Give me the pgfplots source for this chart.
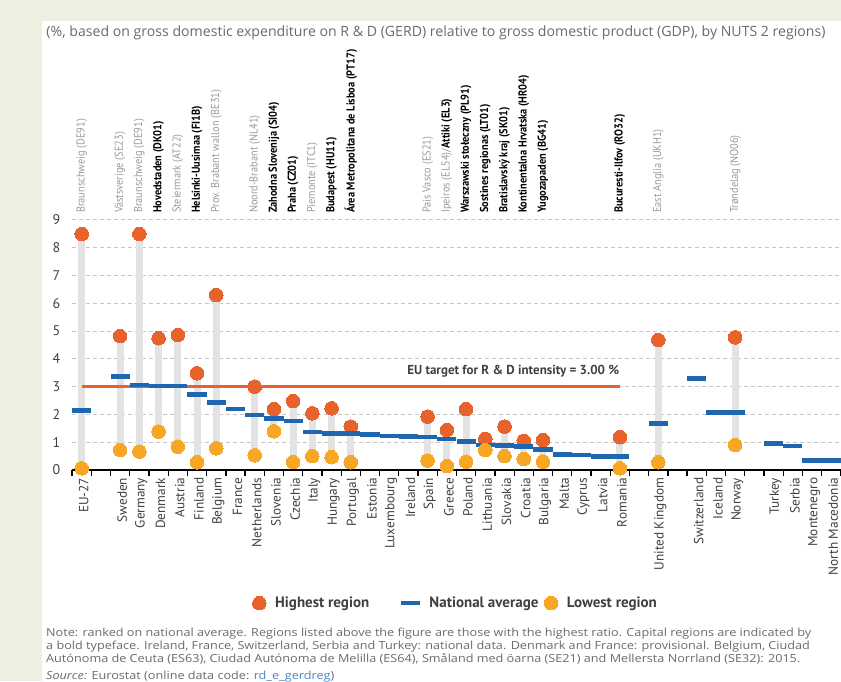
\documentclass[border=0pt]{standalone}
\usepackage{fontspec}
\setmainfont{PT Sans}
\newfontfamily\condfont[FakeStretch=0.9]{PT Sans}
\newfontfamily\notefont[FakeStretch=1.14]{Open Sans}
\newfontfamily\subfont{Open Sans}
\usepackage{pgfplots}
\usepackage{pgfplotstable}
\pgfplotsset{compat=1.18}
\definecolor{hiOrange}{HTML}{E8632B}
\definecolor{loOrange}{HTML}{F8A724}
\definecolor{natBlue}{HTML}{1F66B1}
\definecolor{barGray}{HTML}{E3E3E3}
\definecolor{bgGreen}{HTML}{EDF0E1}
\definecolor{lightG}{HTML}{9A9A9A}
\definecolor{txtG}{HTML}{404040}
\definecolor{subG}{HTML}{6A6A6A}
\definecolor{linkBlue}{HTML}{4A86C5}

\pgfplotstableread{
x high low
0 8.49 0.06
2 4.82 0.72
3 8.49 0.66
4 4.74 1.38
5 4.86 0.84
6 3.48 0.28
7 6.29 0.78
9 3.00 0.53
10 2.19 1.39
11 2.48 0.29
12 2.04 0.50
13 2.22 0.46
14 1.56 0.28
18 1.92 0.34
19 1.44 0.14
20 2.19 0.30
21 1.12 0.72
22 1.56 0.50
23 1.05 0.40
24 1.08 0.30
28 1.18 0.06
30 4.68 0.28
34 4.77 0.90
}\extremes

\pgfplotstableread{
x nat
0 2.14
2 3.36
3 3.06
4 3.03
5 3.03
6 2.72
7 2.42
8 2.19
9 1.98
10 1.86
11 1.77
12 1.36
13 1.32
14 1.32
15 1.27
16 1.23
17 1.20
18 1.18
19 1.12
20 1.02
21 0.90
22 0.88
23 0.84
24 0.74
25 0.56
26 0.54
27 0.49
28 0.49
30 1.67
32 3.29
33 2.07
34 2.07
36 0.96
37 0.86
38 0.34
39 0.34
}\natavg

\begin{document}
\begin{tikzpicture}
\path[use as bounding box] (0,0) rectangle (841pt,-681pt);
\fill[bgGreen] (0,0) rectangle (841pt,-21pt);
\fill[bgGreen] (0,0) rectangle (42pt,-681pt);
\node[anchor=center, text=subG, inner sep=0] at (436pt,-33pt) {\resizebox{779pt}{!}{\subfont\fontsize{12.6}{15}\selectfont(\%, based on gross domestic expenditure on R \& D (GERD) relative to gross domestic product (GDP), by NUTS 2 regions)}};

\begin{axis}[
  at={(72.1pt,-470pt)}, anchor=south west,
  scale only axis, width=768.8pt, height=250.2pt,
  xmin=-0.5, xmax=39.5, ymin=0, ymax=9,
  clip=false,
  axis x line*=bottom, axis y line*=left,
  x axis line style={-, black, line width=1.6pt},
  y axis line style={draw=none},
  ytick={0,...,9},
  ytick style={draw=none},
  ymajorgrids,
  major grid style={dash pattern=on 4pt off 3pt, gray!45, line width=0.8pt},
  /pgf/number format/assume math mode=true,
  yticklabel style={font=\fontsize{14}{16}\selectfont, text=txtG, xshift=-4pt},
  xtick={0,2,3,4,5,6,7,8,9,10,11,12,13,14,15,16,17,18,19,20,21,22,23,24,25,26,27,28,30,32,33,34,36,37,38,39},
  xticklabels={EU-27,Sweden,Germany,Denmark,Austria,Finland,Belgium,France,Netherlands,Slovenia,Czechia,Italy,Hungary,Portugal,Estonia,Luxembourg,Ireland,Spain,Greece,Poland,Lithuania,Slovakia,Croatia,Bulgaria,Malta,Cyprus,Latvia,Romania,United Kingdom,Switzerland,Iceland,Norway,Turkey,Serbia,Montenegro,North Macedonia},
  major x tick style={draw=none},
  minor xtick={-0.5,0.5,...,39.5},
  minor tick length=6pt,
  tick align=outside,
  minor x tick style={black, line width=1.3pt},
  xticklabel style={rotate=90, anchor=east, font=\fontsize{13.3}{15}\selectfont, text=txtG, yshift=-2pt},
  legend style={draw=none, fill=none, legend columns=3, at={(0.499,-0.532)}, anchor=center,
    font=\bfseries\fontsize{15}{17}\selectfont, text=txtG,
    /tikz/every odd column/.append style={column sep=7pt},
    /tikz/column 2/.style={column sep=30pt},
    /tikz/column 4/.style={column sep=4pt}},
  legend cell align=left,
]
\addplot[forget plot, draw=none, mark=none,
  error bars/.cd, y dir=minus, y explicit,
  error bar style={line width=7pt, color=barGray}, error mark=none]
  table[x=x, y=high, y error expr=\thisrow{high}-\thisrow{low}] {\extremes};
\addplot[forget plot, color=hiOrange, line width=3.5pt] coordinates {(0,3) (28,3)};
\node[anchor=east, font=\bfseries\fontsize{13}{15}\selectfont, text=txtG] at (axis cs:28.15,3.54) {EU target for R \& D intensity = 3.00 \%};

\addplot[only marks, color=hiOrange, mark=*, mark size=6.8pt, mark options={draw=hiOrange, fill=hiOrange, line width=0pt}] table[x=x, y=high] {\extremes};
\addplot[only marks, color=natBlue, mark=-, mark size=9.6pt, mark options={line width=4.5pt, draw=natBlue}] table[x=x, y=nat] {\natavg};
\addplot[only marks, color=loOrange, mark=*, mark size=6.8pt, mark options={draw=loOrange, fill=loOrange, line width=0pt}] table[x=x, y=low] {\extremes};
\legend{Highest region, National average, Lowest region}

\tikzset{regl/.style={rotate=90, anchor=west, inner sep=0pt, font=\condfont\fontsize{11.5}{13}\selectfont, text=lightG},
         regb/.style={regl, text=black, font=\condfont\bfseries\fontsize{11.5}{13}\selectfont}}
\node[regl] at (axis cs:0,9.24) {Braunschweig (DE91)};
\node[regl] at (axis cs:2,9.24) {Västsverige (SE23)};
\node[regl] at (axis cs:3,9.24) {Braunschweig (DE91)};
\node[regb] at (axis cs:4,9.24) {Hovedstaden (DK01)};
\node[regl] at (axis cs:5,9.24) {Steiermark (AT22)};
\node[regb] at (axis cs:6,9.24) {Helsinki-Uusimaa (FI1B)};
\node[regl] at (axis cs:7,9.24) {Prov. Brabant wallon (BE31)};
\node[regl] at (axis cs:9,9.24) {Noord-Brabant (NL41)};
\node[regb] at (axis cs:10,9.24) {Zahodna Slovenija (SI04)};
\node[regb] at (axis cs:11,9.24) {Praha (CZ01)};
\node[regl] at (axis cs:12,9.24) {Piemonte (ITC1)};
\node[regb] at (axis cs:13,9.24) {Budapest (HU11)};
\node[regb] at (axis cs:14,9.24) {Área Metropolitana de Lisboa (PT17)};
\node[regl] at (axis cs:18,9.24) {País Vasco (ES21)};
\node[regl] at (axis cs:19,9.24) {Ipeiros (EL54)/{\color{black}\bfseries Attiki (EL3)}};
\node[regb] at (axis cs:20,9.24) {Warszawski stołeczny (PL91)};
\node[regb] at (axis cs:21,9.24) {Sostines regionas (LT01)};
\node[regb] at (axis cs:22,9.24) {Bratislavský kraj (SK01)};
\node[regb] at (axis cs:23,9.24) {Kontinentalna Hrvatska (HR04)};
\node[regb] at (axis cs:24,9.24) {Yugozapaden (BG41)};
\node[regb] at (axis cs:28,9.24) {Bucuresti-Ilfov (RO32)};
\node[regl] at (axis cs:30,9.24) {East Anglia (UKH1)};
\node[regl] at (axis cs:34,9.24) {Trøndelag (NO06)};
\end{axis}

\begin{scope}[every node/.style={anchor=base west, inner sep=0pt, text=subG, font=\notefont\fontsize{11.1}{12}\selectfont}]
\node at (46pt,-636pt) {Note: ranked on national average. Regions listed above the figure are those with the highest ratio. Capital regions are indicated by};
\node at (46pt,-649pt) {a bold typeface. Ireland, France, Switzerland, Serbia and Turkey: national data. Denmark and France: provisional. Belgium, Ciudad};
\node at (46pt,-662pt) {Autónoma de Ceuta (ES63), Ciudad Autónoma de Melilla (ES64), Småland med öarna (SE21) and Mellersta Norrland (SE32): 2015.};
\node at (46pt,-679pt) {{\itshape Source:} Eurostat (online data code: {\color{linkBlue}rd\_e\_gerdreg})};
\end{scope}
\end{tikzpicture}
\end{document}
